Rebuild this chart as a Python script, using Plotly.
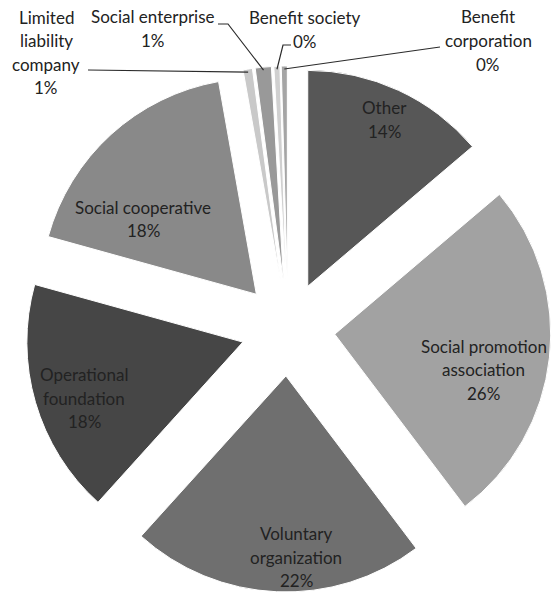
import math
import plotly.graph_objects as go

# Share of organisations by legal form (%)
categories = [
    "Other",
    "Social promotion association",
    "Voluntary organization",
    "Operational foundation",
    "Social cooperative",
    "Limited liability company",
    "Social enterprise",
    "Benefit society",
    "Benefit corporation",
]
shares = [13.8, 25.9, 22.0, 17.6, 17.9, 0.7, 1.2, 0.45, 0.45]

# How each category name is broken over lines in its label
label_lines = [
    ["Other"],
    ["Social promotion", "association"],
    ["Voluntary", "organization"],
    ["Operational", "foundation"],
    ["Social cooperative"],
    ["Limited", "liability", "company"],
    ["Social enterprise"],
    ["Benefit society"],
    ["Benefit", "corporation"],
]

slice_colors = ["#575757", "#a2a2a2", "#6f6f6f", "#464646", "#898989",
                "#c9c9c9", "#999999", "#d0d0d0", "#a5a5a5"]

# ---- page geometry (pixels) ----
W, H = 551, 601
CX, CY = 288, 329        # pie centre
R = 216                  # pie radius
GAP = 47                 # how far each slice is exploded
PULL = GAP / R
LINE_H = 23.5
FONT = dict(family="Lato, 'Open Sans', sans-serif", size=17, color="#222222")

# label placement inside the big slices: (radius fraction, angle shift in degrees)
inside_place = {0: (0.85, 0.0), 1: (0.71, 7.2), 2: (0.84, -5.8),
                3: (0.78, -3.3), 4: (0.63, -14.1)}
# labels outside the thin slices: block centre and leader-line elbow points
outside_place = {
    5: ((46, 52.5), [(88, 70)]),
    6: ((153, 28.5), [(218, 24), (228, 24)]),
    7: ((305, 29.5), [(291, 45), (283, 45)]),
    8: ((488, 40.5), [(440, 47)]),
}


def px(x):
    return x / W


def py(y):
    return 1 - y / H


def unit(deg):
    a = math.radians(deg)
    return math.sin(a), -math.cos(a)


total = sum(shares)
half = R + GAP

fig = go.Figure(go.Pie(
    labels=categories,
    values=shares,
    sort=False,
    direction="clockwise",
    rotation=0,
    pull=[PULL] * len(shares),
    marker=dict(colors=slice_colors, line=dict(color="white", width=1)),
    textinfo="none",
    hoverinfo="label+percent",
    domain=dict(x=[px(CX - half), min(1.0, px(CX + half))],
                y=[py(CY + half), py(CY - half)]),
))

annotations = []
shapes = []
cum = 0.0
for i, v in enumerate(shares):
    start = cum / total * 360
    cum += v
    end = cum / total * 360
    mid = (start + end) / 2
    ux, uy = unit(mid)
    ax, ay = CX + GAP * ux, CY + GAP * uy   # exploded slice apex
    lines = label_lines[i] + [f"{round(v / total * 100):.0f}%"]

    if i in inside_place:
        rf, dth = inside_place[i]
        lx, ly = unit(mid + dth)
        bx, by = ax + rf * R * lx, ay + rf * R * ly
    else:
        (bx, by), elbow = outside_place[i]
        tip = (ax + (R - 3) * ux, ay + (R - 3) * uy)
        pts = elbow + [tip]
        path = "M " + " L ".join(f"{px(x):.5f},{py(y):.5f}" for x, y in pts)
        shapes.append(dict(type="path", xref="paper", yref="paper", path=path,
                           line=dict(color="#2b2b2b", width=1.2)))

    n = len(lines)
    for k, t in enumerate(lines):
        yy = by + (k - (n - 1) / 2) * LINE_H
        annotations.append(dict(text=t, x=px(bx), y=py(yy), xref="paper", yref="paper",
                                xanchor="center", yanchor="middle", showarrow=False,
                                font=FONT))

fig.update_layout(
    width=W, height=H,
    margin=dict(l=0, r=0, t=0, b=0),
    paper_bgcolor="white",
    plot_bgcolor="white",
    showlegend=False,
    annotations=annotations,
    shapes=shapes,
)

fig.write_html("out.html")
